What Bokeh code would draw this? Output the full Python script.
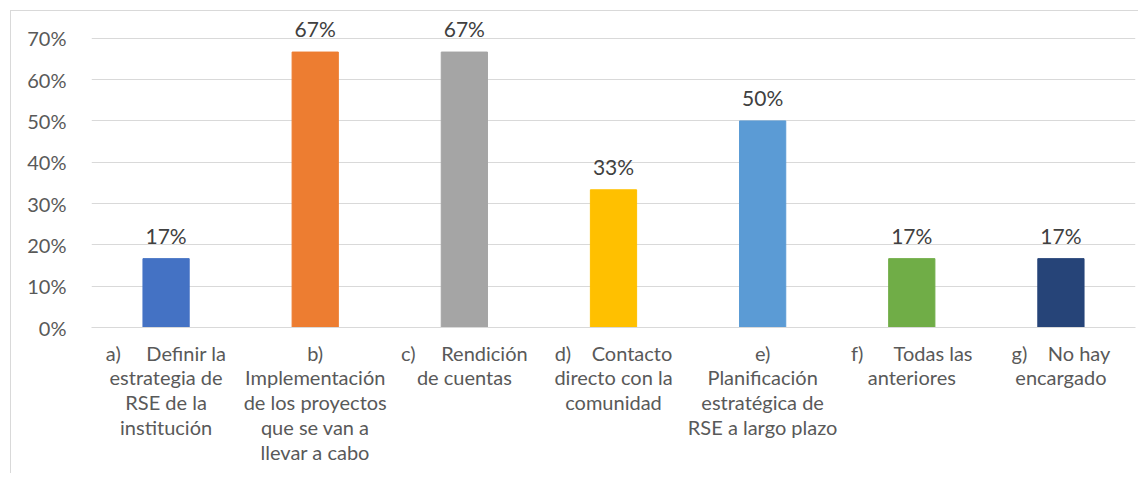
from bokeh.plotting import figure
from bokeh.models import ColumnDataSource, FactorRange, NumeralTickFormatter, LabelSet, FixedTicker, Spacer, InlineStyleSheet
from bokeh.layouts import column, row
from bokeh.core.properties import value
from bokeh.embed import file_html
from bokeh.resources import INLINE

S = "\u00a0"
categories = [
    "a)" + S * 5 + "Definir la\nestrategia de\nRSE de la\ninstitución",
    "b)\nImplementación\nde los proyectos\nque se van a\nllevar a cabo",
    "c)" + S * 5 + "Rendición\nde cuentas",
    "d)" + S * 4 + "Contacto\ndirecto con la\ncomunidad",
    "e)\nPlanificación\nestratégica de\nRSE a largo plazo",
    "f)" + S * 6 + "Todas las\nanteriores",
    "g)" + S * 4 + "No hay\nencargado",
]
values = [0.1667, 0.6667, 0.6667, 0.3333, 0.5, 0.1667, 0.1667]
colors = ["#4472C4", "#ED7D31", "#A5A5A5", "#FFC000", "#5B9BD5", "#70AD47", "#264478"]
y_ticks = [0, 0.1, 0.2, 0.3, 0.4, 0.5, 0.6, 0.7]

labels = [f"{round(v * 100):d}%" for v in values]
src = ColumnDataSource(dict(cat=categories, val=values, color=colors, lab=labels))

FONT = "Lato"
p = figure(
    x_range=FactorRange(*categories), y_range=(0, 0.76),
    width=1128, height=463, output_backend="svg", toolbar_location=None,
    min_border_left=81, min_border_right=3, min_border_top=3, min_border_bottom=146,
)
p.border_fill_color = None
p.background_fill_color = "white"
p.stylesheets = [InlineStyleSheet(css=":host { box-shadow: inset 1px 1px 0 #d9d9d9; }")]
p.vbar(x="cat", top="val", width=0.31, color="color", source=src)
p.add_layout(LabelSet(x="cat", y="val", text="lab", source=src, text_align="center",
                      text_baseline="alphabetic", y_offset=15, text_font=value(FONT),
                      text_font_size=value("21px"), text_color=value("#404040")))

p.outline_line_color = None
p.xgrid.grid_line_color = None
p.ygrid.grid_line_color = "#d9d9d9"
p.ygrid.grid_line_width = 1
p.yaxis.ticker = FixedTicker(ticks=y_ticks)
p.yaxis.formatter = NumeralTickFormatter(format="0%")
for ax in (p.xaxis[0], p.yaxis[0]):
    ax.major_tick_line_color = None
    ax.minor_tick_line_color = None
    ax.major_label_text_font = FONT
    ax.major_label_text_color = "#595959"
p.yaxis.major_label_text_font_size = "20px"
p.xaxis.major_label_text_font_size = "20px"
p.yaxis.axis_line_color = None
p.yaxis.major_label_standoff = 19
p.xaxis.axis_line_color = "#d9d9d9"
p.xaxis.major_label_standoff = 7
p.xaxis.major_label_text_line_height = 1.04
p.xaxis.major_label_orientation = "horizontal"
p.x_range.range_padding = 0

layout = column(Spacer(height=10, width=10), row(Spacer(width=10, height=10), p))
open("out.html", "w").write(file_html(layout, INLINE))
